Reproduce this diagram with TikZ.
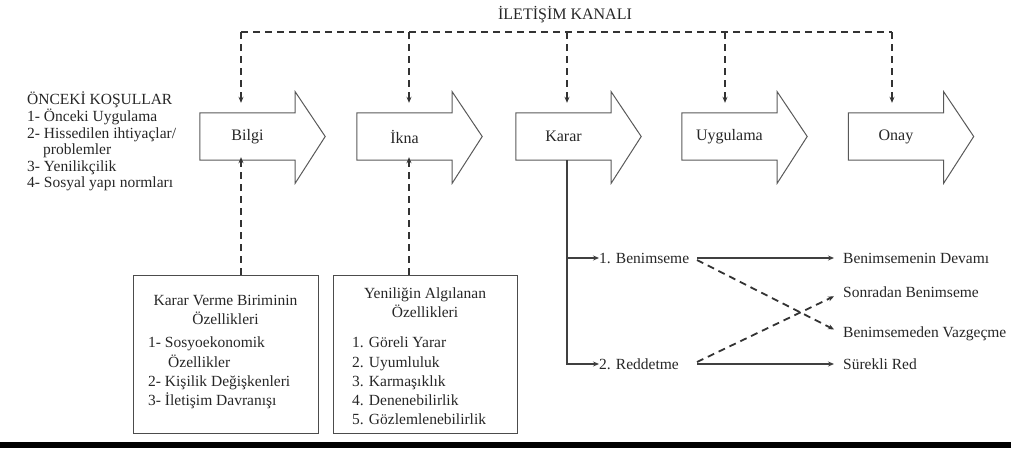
\documentclass[tikz,border=0pt]{standalone}
\usepackage{fontspec}
\setmainfont{Liberation Serif}
\usetikzlibrary{calc,arrows.meta}
\newcommand\blockarrow[3]{%
  \node[body] (#1) at #2 {#3};
  \draw[outline] (#1.north west) -- (#1.north east) -- ($(#1.north east)+(0,-21)$)
    -- ($(#1.east)+(30,0)$) -- ($(#1.south east)+(0,23)$) -- (#1.south east)
    -- (#1.south west) -- cycle;}
\begin{document}
\begin{tikzpicture}[x=1pt,y=-1pt,
  txt/.style={font=\rmfamily\fontsize{15.5}{16.6}\selectfont, inner sep=0pt, text=black!85},
  boxtxt/.style={font=\rmfamily\fontsize{15.5}{19.2}\selectfont, inner sep=0pt, text=black!85},
  body/.style={minimum width=95pt, minimum height=47pt, inner sep=0pt,
    font=\rmfamily\fontsize{16}{16}\selectfont, text=black!85},
  outline/.style={draw=black!65, line width=1pt, line join=miter},
  dsh/.style={draw=black!80, line width=1.8pt, dash pattern=on 7pt off 5pt},
  tip/.style={-{Stealth[length=6pt,width=5pt]}},
  sol/.style={draw=black!75, line width=1.6pt},
  boxst/.style={draw=black!70, line width=1pt, minimum height=158pt, inner sep=0pt}]
\useasboundingbox (0,0) rectangle (1011,448);
\fill[black] (0,442) rectangle (1011,448);

% block arrows
\blockarrow{bilgi}{(247.5,136.5)}{Bilgi}
\blockarrow{ikna}{(404.5,136.5)}{İkna}
\blockarrow{karar}{(563.5,136.5)}{Karar}
\blockarrow{uyg}{(729.5,136.5)}{Uygulama}
\blockarrow{onay}{(896,136.5)}{Onay}

% communication channel
\node[txt, font=\rmfamily\fontsize{16}{16}\selectfont] (kanal) at (565,15) {İLETİŞİM KANALI};
\coordinate (t1) at (241,32);
\coordinate (t2) at (409,32);
\coordinate (t3) at (567,32);
\coordinate (t4) at (725,32);
\coordinate (t5) at (892,32);
\draw[dsh] (t1) -- (t5);
\draw[dsh,tip,shorten >=10pt] (t1) -- (bilgi.north -| t1);
\draw[dsh,tip,shorten >=10pt] (t2) -- (ikna.north -| t2);
\draw[dsh,tip,shorten >=10pt] (t3) -- (karar.north -| t3);
\draw[dsh,tip,shorten >=10pt] (t4) -- (uyg.north -| t4);
\draw[dsh,tip,shorten >=10pt] (t5) -- (onay.north -| t5);

% prior conditions
\node[txt, align=left, anchor=north west] (onceki) at (27,92) {ÖNCEKİ KOŞULLAR\\1- Önceki Uygulama\\2- Hissedilen ihtiyaçlar/\\\hspace*{16pt}problemler\\3- Yenilikçilik\\4- Sosyal yapı normları};

% boxes
\node[boxst, minimum width=185pt] (box1) at (225.5,354) {};
\node[boxst, minimum width=184pt] (box2) at (425,354) {};
\node[boxtxt, align=center] (b1t) at (225.5,310) {Karar Verme Biriminin\\Özellikleri};
\node[boxtxt, align=left, anchor=north west] (b1l) at (148,337) {1- Sosyoekonomik\\\hspace*{20pt}Özellikler\\2- Kişilik Değişkenleri\\3- İletişim Davranışı};
\node[boxtxt, align=center] (b2t) at (425,303) {Yeniliğin Algılanan\\Özellikleri};
\node[boxtxt, align=left, anchor=north west] (b2l) at (352,337) {1. Göreli Yarar\\2. Uyumluluk\\3. Karmaşıklık\\4. Denenebilirlik\\5. Gözlemlenebilirlik};
\draw[dsh,tip,shorten >=-3pt] (box1.north -| t1) -- (bilgi.south -| t1);
\draw[dsh,tip,shorten >=-3pt] (box2.north -| t2) -- (ikna.south -| t2);

% decision branches
\node[txt, anchor=west] (ben) at (599,258) {1. Benimseme};
\node[txt, anchor=west] (red) at (599,364) {2. Reddetme};
\node[txt, anchor=west] (devam) at (843,258) {Benimsemenin Devamı};
\node[txt, anchor=west] (sonra) at (843,292) {Sonradan Benimseme};
\node[txt, anchor=west] (vaz) at (843,334) {Benimsemeden Vazgeçme};
\node[txt, anchor=west] (surekli) at (843,364) {Sürekli Red};
\coordinate (kx) at (567,0);
\coordinate (sx) at (697,0);
\draw[sol,tip] (karar.south -| kx) |- (ben.west);
\draw[sol,tip] (karar.south -| kx) |- (red.west);
\draw[sol,tip,shorten >=9pt] (ben -| sx) -- (devam.west);
\draw[sol,tip,shorten >=9pt] (red -| sx) -- (surekli.west);
\draw[dsh,tip,shorten >=10pt] ($(ben -| sx)+(0,2)$) -- (vaz.west);
\draw[dsh,tip,shorten >=10pt] ($(red -| sx)+(0,-2)$) -- (sonra.west);
\end{tikzpicture}
\end{document}
